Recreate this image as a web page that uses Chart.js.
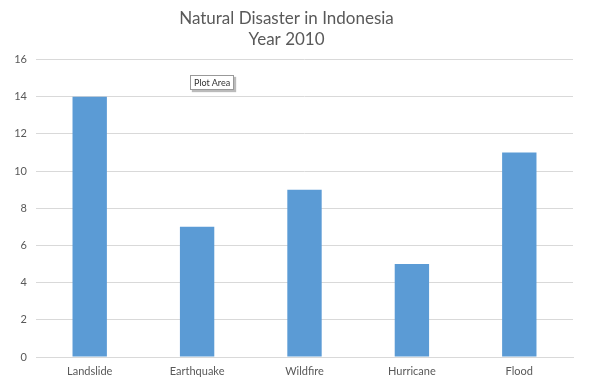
<!DOCTYPE html>
<html>
<head>
<meta charset="utf-8">
<script src="https://cdn.jsdelivr.net/npm/chart.js@4"></script>
<style>
  html,body{margin:0;padding:0;background:#fff;}
  #wrap{position:relative;width:600px;height:388px;}
  #tip{position:absolute;left:190px;top:75px;font:9px Lato,'Liberation Sans',sans-serif;color:#333;
       background:#fff;border:1px solid #999;padding:1px 3px;box-shadow:2px 2px 1px #bbb;line-height:11px;}
</style>
</head>
<body>
<div id="wrap">
  <canvas id="c" width="600" height="388"></canvas>
  <div id="tip">Plot Area</div>
</div>
<script>
// ===== data =====
const CATEGORIES = ['Landslide','Earthquake','Wildfire','Hurricane','Flood'];
const COUNTS = [14, 7, 9, 5, 11];
const Y_MAX = 16, Y_STEP = 2;

const GRAY = '#595959';
Chart.defaults.font.family = "Lato, 'Liberation Sans', sans-serif";
Chart.defaults.color = GRAY;

new Chart(document.getElementById('c'), {
  type: 'bar',
  data: {labels: CATEGORIES, datasets: [{data: COUNTS, backgroundColor: '#5b9bd5',
    categoryPercentage: 1, barPercentage: 0.32}]},
  options: {
    responsive: false, animation: false,
    layout: {padding: {left: 0, right: 27, bottom: 0}},
    plugins: {
      legend: {display: false}, tooltip: {enabled: false},
      title: {display: true, text: ['Natural Disaster in Indonesia', 'Year 2010'],
        color: GRAY, font: {size: 17, weight: 'normal', lineHeight: 1.25},
        padding: {top: 8, bottom: 9}}
    },
    scales: {
      x: {grid: {display: false}, border: {color: '#d9d9d9'},
        ticks: {font: {size: 11}, padding: 0},
        afterFit: s => { s.height = 31; }},
      y: {min: 0, max: Y_MAX, ticks: {stepSize: Y_STEP, font: {size: 11}, padding: 9},
        grid: {color: '#d9d9d9', drawTicks: false}, border: {display: false},
        afterFit: s => { s.width = 36; }}
    }
  }
});
</script>
</body>
</html>
